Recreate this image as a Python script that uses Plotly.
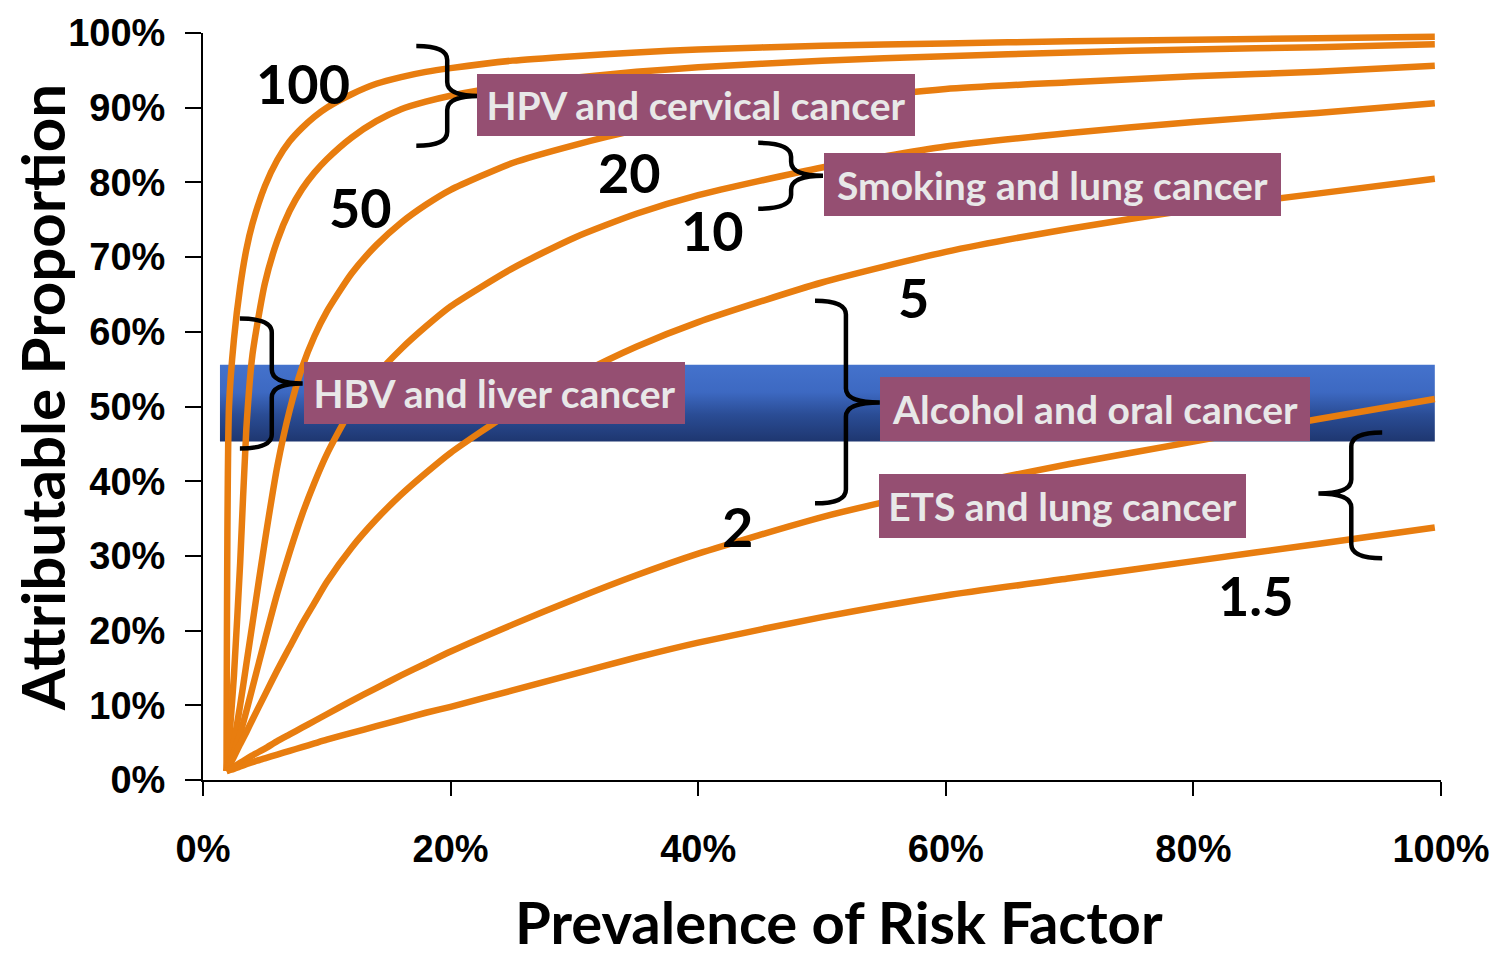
import plotly.graph_objects as go

# Prevalence of the risk factor (shared x positions for every curve)
prevalence = [0.019, 0.021, 0.025, 0.03, 0.035, 0.04, 0.05, 0.06, 0.07, 0.08, 0.09, 0.10,
              0.12, 0.14, 0.16, 0.18, 0.20, 0.25, 0.30, 0.35, 0.40, 0.50, 0.60, 0.70,
              0.80, 0.90, 0.995]

# Attributable proportion for each relative risk
ap_rr100 = [0.012, 0.50, 0.59, 0.66, 0.71, 0.745, 0.795, 0.83, 0.855, 0.873, 0.888, 0.90,
            0.918, 0.932, 0.941, 0.948, 0.953, 0.963, 0.969, 0.974, 0.978, 0.983, 0.986, 0.989,
            0.991, 0.993, 0.995]
ap_rr50 = [0.012, 0.05, 0.14, 0.29, 0.47, 0.57, 0.665, 0.722, 0.762, 0.791, 0.813, 0.831,
           0.86, 0.882, 0.898, 0.908, 0.916, 0.93, 0.94, 0.948, 0.954, 0.963, 0.969, 0.974,
           0.978, 0.981, 0.985]
ap_rr20 = [0.012, 0.024, 0.052, 0.10, 0.155, 0.21, 0.32, 0.42, 0.495, 0.552, 0.594, 0.627,
           0.678, 0.716, 0.746, 0.77, 0.79, 0.826, 0.85, 0.87, 0.885, 0.907, 0.925, 0.934,
           0.942, 0.948, 0.956]
ap_rr10 = [0.012, 0.02, 0.038, 0.062, 0.092, 0.124, 0.188, 0.25, 0.305, 0.355, 0.398, 0.436,
           0.497, 0.542, 0.577, 0.607, 0.634, 0.685, 0.726, 0.758, 0.783, 0.82, 0.848, 0.866,
           0.881, 0.893, 0.906]
ap_rr5 = [0.012, 0.018, 0.031, 0.048, 0.064, 0.081, 0.114, 0.147, 0.178, 0.209, 0.237, 0.265,
          0.311, 0.349, 0.382, 0.411, 0.438, 0.494, 0.54, 0.58, 0.613, 0.666, 0.707, 0.738,
          0.764, 0.785, 0.805]
ap_rr2 = [0.012, 0.014, 0.018, 0.023, 0.028, 0.033, 0.042, 0.052, 0.061, 0.07, 0.079, 0.088,
          0.106, 0.123, 0.14, 0.156, 0.172, 0.208, 0.242, 0.274, 0.303, 0.352, 0.39, 0.423,
          0.453, 0.483, 0.51]
ap_rr15 = [0.012, 0.013, 0.015, 0.018, 0.021, 0.024, 0.029, 0.034, 0.039, 0.044, 0.049, 0.054,
           0.063, 0.072, 0.081, 0.09, 0.098, 0.12, 0.142, 0.164, 0.184, 0.218, 0.247, 0.27,
           0.293, 0.316, 0.338]

series = [ap_rr100, ap_rr50, ap_rr20, ap_rr10, ap_rr5, ap_rr2, ap_rr15]

# Relative-risk labels and where they sit
rr_labels = ["100", "50", "20", "10", "5", "2", "1.5"]
rr_label_pos = [(0.0805, 0.932), (0.127, 0.766), (0.3446, 0.813), (0.4114, 0.735),
                (0.574, 0.646), (0.432, 0.340), (0.850, 0.247)]

# Exposure / outcome boxes: text, centre, size in px
box_texts = ["HPV and cervical cancer", "Smoking and lung cancer", "HBV and liver cancer",
             "Alcohol and oral cancer", "ETS and lung cancer"]
box_centres = [(0.3986, 0.9037), (0.6864, 0.7975), (0.2355, 0.5187), (0.7206, 0.4973),
               (0.6944, 0.3663)]
box_sizes = [(438, 62), (457, 63), (381, 62), (430, 64), (367, 64)]

# Highlighted band around 50 %
band_x = (0.0137, 0.995)
band_y = (0.453, 0.556)

ORANGE = "#E87D0F"
BOX = "#954F72"
BOX_TEXT = "#E8E8E8"

fig = go.Figure()

fig.add_trace(go.Scatter(
    x=[band_x[0], band_x[1], band_x[1], band_x[0], band_x[0]],
    y=[band_y[0], band_y[0], band_y[1], band_y[1], band_y[0]],
    mode="lines", line=dict(width=0), fill="toself",
    fillgradient=dict(type="vertical", start=band_y[0], stop=band_y[1],
                      colorscale=[[0, "#1e366f"], [0.35, "#2a4c94"], [0.65, "#3d69c2"], [1, "#4472cc"]]),
    hoverinfo="skip", showlegend=False))

for ys in series:
    fig.add_trace(go.Scatter(x=prevalence, y=ys, mode="lines",
                             line=dict(color=ORANGE, width=6.5, shape="spline", smoothing=0.6),
                             hoverinfo="skip", showlegend=False))

# px -> axis units (plot area spans 1242 x 748 px)
PX = 1 / 1242
PY = 1 / 748


def brace(tip, spine, point, top, mid, bottom, r=14):
    """Curly brace path in axis units; opens toward `point`."""
    x0 = (tip - 203) * PX
    x1 = (spine - 203) * PX
    x2 = (point - 203) * PX
    yt = (780 - top) * PY
    ym = (780 - mid) * PY
    yb = (780 - bottom) * PY
    rr = r * PY
    return (f"M {x0},{yt} Q {x1},{yt} {x1},{yt - rr} L {x1},{ym + rr} "
            f"Q {x1},{ym} {x2},{ym} Q {x1},{ym} {x1},{ym - rr} "
            f"L {x1},{yb + rr} Q {x1},{yb} {x0},{yb}")


braces = [
    (417, 448, 480, 45, 95, 145),
    (760, 793, 825, 142, 175, 208),
    (240, 272, 303, 318, 383, 448),
    (817, 848, 882, 300, 402, 503),
    (1386, 1355, 1322, 432, 493, 558),
]
for b in braces:
    fig.add_shape(type="path", path=brace(*b), xref="x", yref="y",
                  line=dict(color="black", width=4.5), layer="above")

LABEL_FONT = "Lato, 'Open Sans', sans-serif"

for txt, (cx, cy), (w, h) in zip(box_texts, box_centres, box_sizes):
    fig.add_annotation(x=cx, y=cy, xref="x", yref="y", text=f"<b>{txt}</b>", showarrow=False,
                       width=w, height=h, bgcolor=BOX, borderpad=0, borderwidth=0,
                       align="center", valign="middle", xanchor="center", yanchor="middle",
                       font=dict(family=LABEL_FONT, size=39, color=BOX_TEXT))

for txt, (lx, ly) in zip(rr_labels, rr_label_pos):
    fig.add_annotation(x=lx, y=ly, xref="x", yref="y", text=f"<b>{txt}</b>", showarrow=False,
                       xanchor="center", yanchor="middle",
                       font=dict(family=LABEL_FONT, size=54, color="black"))

fig.add_annotation(x=0.514, y=-0.190, xref="paper", yref="paper",
                   text="<b>Prevalence of Risk Factor</b>", showarrow=False,
                   xanchor="center", yanchor="middle",
                   font=dict(family=LABEL_FONT, size=58, color="black"))
fig.add_annotation(x=-0.130, y=0.511, xref="paper", yref="paper",
                   text="<b>Attributable Proportion</b>", showarrow=False, textangle=-90,
                   xanchor="center", yanchor="middle",
                   font=dict(family=LABEL_FONT, size=60, color="black"))

TICK_FONT = dict(family="'Liberation Sans', Arial, sans-serif", size=38, color="black",
                 weight="bold")

fig.update_xaxes(range=[0, 1], tickvals=[0, 0.2, 0.4, 0.6, 0.8, 1.0], tickformat=".0%",
                 showgrid=False, zeroline=False, showline=True, linecolor="black", linewidth=2,
                 ticks="outside", ticklen=14, tickwidth=2, tickcolor="black",
                 tickfont=TICK_FONT, ticklabelstandoff=20)
fig.update_yaxes(range=[0, 1], tickvals=[i / 10 for i in range(11)], tickformat=".0%",
                 showgrid=False, zeroline=False, showline=True, linecolor="black", linewidth=2,
                 ticks="outside", ticklen=16, tickwidth=2, tickcolor="black",
                 tickfont=TICK_FONT, ticklabelstandoff=12)

fig.update_layout(width=1502, height=955, margin=dict(l=203, r=57, t=32, b=175),
                  plot_bgcolor="white", paper_bgcolor="white", showlegend=False)

fig.write_html("out.html")
